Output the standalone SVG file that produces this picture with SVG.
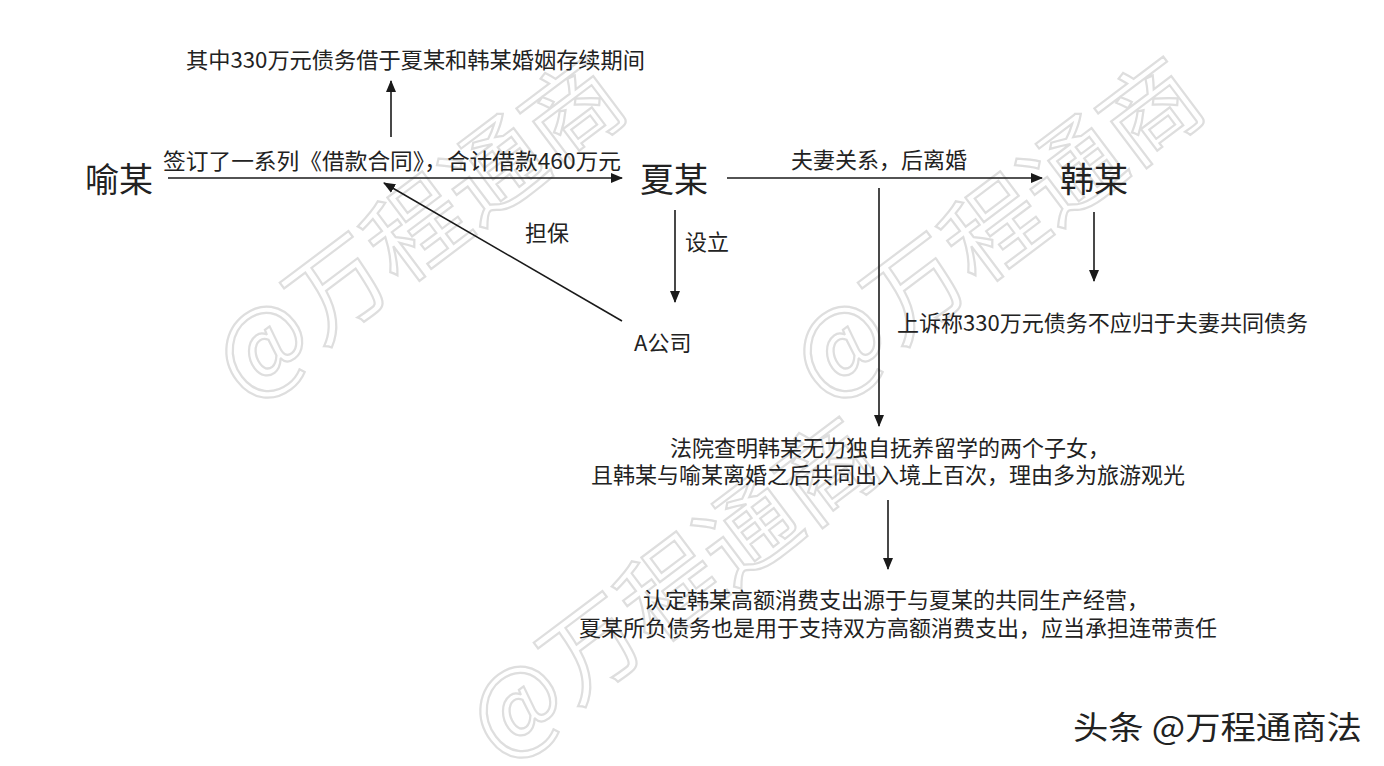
<svg xmlns="http://www.w3.org/2000/svg" width="1384" height="766" viewBox="0 0 1384 766">
<defs>
<marker id="ah" viewBox="0 0 12 10" refX="11" refY="5" markerWidth="12" markerHeight="10" markerUnits="userSpaceOnUse" orient="auto">
<path d="M0,0 L12,5 L0,10 Z" fill="#1a1a1a"/>
</marker>
<style>
.t{font-family:"Noto Sans CJK SC","Noto Sans",sans-serif;fill:#222;}
.big{font-size:34px;}
.lbl{font-size:22px;}
.wm{font-family:"Noto Sans CJK SC","Noto Sans",sans-serif;font-size:98px;fill:none;stroke:#dedede;stroke-width:2.2;}
.ln{stroke:#1a1a1a;stroke-width:1.6;fill:none;}
</style>
</defs>
<rect width="1384" height="766" fill="#ffffff"/>
<g id="watermarks">
<text class="wm" transform="translate(246,402) rotate(-37)">@万程通商</text>
<text class="wm" transform="translate(824,402) rotate(-37)">@万程通商</text>
<text class="wm" transform="translate(500,762) rotate(-37)">@万程通商</text>
</g>
<g id="connectors">
<line class="ln" x1="168" y1="178" x2="622" y2="178" marker-end="url(#ah)"/>
<line class="ln" x1="391" y1="137" x2="391" y2="81" marker-end="url(#ah)"/>
<line class="ln" x1="727" y1="178" x2="1042" y2="178" marker-end="url(#ah)"/>
<line class="ln" x1="675" y1="210" x2="675" y2="302" marker-end="url(#ah)"/>
<line class="ln" x1="622" y1="321" x2="384" y2="183" marker-end="url(#ah)"/>
<line class="ln" x1="1094" y1="212" x2="1094" y2="281" marker-end="url(#ah)"/>
<line class="ln" x1="879" y1="188" x2="879" y2="426" marker-end="url(#ah)"/>
<line class="ln" x1="888" y1="500" x2="888" y2="569" marker-end="url(#ah)"/>
</g>
<g id="edge-labels">
<text class="t lbl" x="163" y="169" textLength="458" lengthAdjust="spacingAndGlyphs">签订了一系列《借款合同》，合计借款460万元</text>
<text class="t lbl" x="791" y="168" textLength="176" lengthAdjust="spacingAndGlyphs">夫妻关系，后离婚</text>
<text class="t lbl" x="685" y="250">设立</text>
<text class="t lbl" x="525" y="241">担保</text>
</g>
<g id="node-yu"><text class="t big" x="85" y="192">喻某</text></g>
<g id="node-xia"><text class="t big" x="640" y="192">夏某</text></g>
<g id="node-han"><text class="t big" x="1060" y="192">韩某</text></g>
<g id="node-a"><text class="t lbl" x="634" y="351">A公司</text></g>
<g id="node-note1"><text class="t lbl" x="186" y="68" textLength="459" lengthAdjust="spacingAndGlyphs">其中330万元债务借于夏某和韩某婚姻存续期间</text></g>
<g id="node-appeal"><text class="t lbl" x="897" y="331" textLength="411" lengthAdjust="spacingAndGlyphs">上诉称330万元债务不应归于夫妻共同债务</text></g>
<g id="node-court">
<text class="t lbl" text-anchor="middle" x="890" y="456">法院查明韩某无力独自抚养留学的两个子女，</text>
<text class="t lbl" text-anchor="middle" x="888" y="483">且韩某与喻某离婚之后共同出入境上百次，理由多为旅游观光</text>
</g>
<g id="node-ruling">
<text class="t lbl" text-anchor="middle" x="896" y="608">认定韩某高额消费支出源于与夏某的共同生产经营，</text>
<text class="t lbl" text-anchor="middle" x="898" y="636">夏某所负债务也是用于支持双方高额消费支出，应当承担连带责任</text>
</g>
<g id="credit"><text class="t" x="1073" y="739" font-size="32" fill="#1a1a1a" textLength="289" lengthAdjust="spacingAndGlyphs">头条 @万程通商法</text></g>
</svg>
